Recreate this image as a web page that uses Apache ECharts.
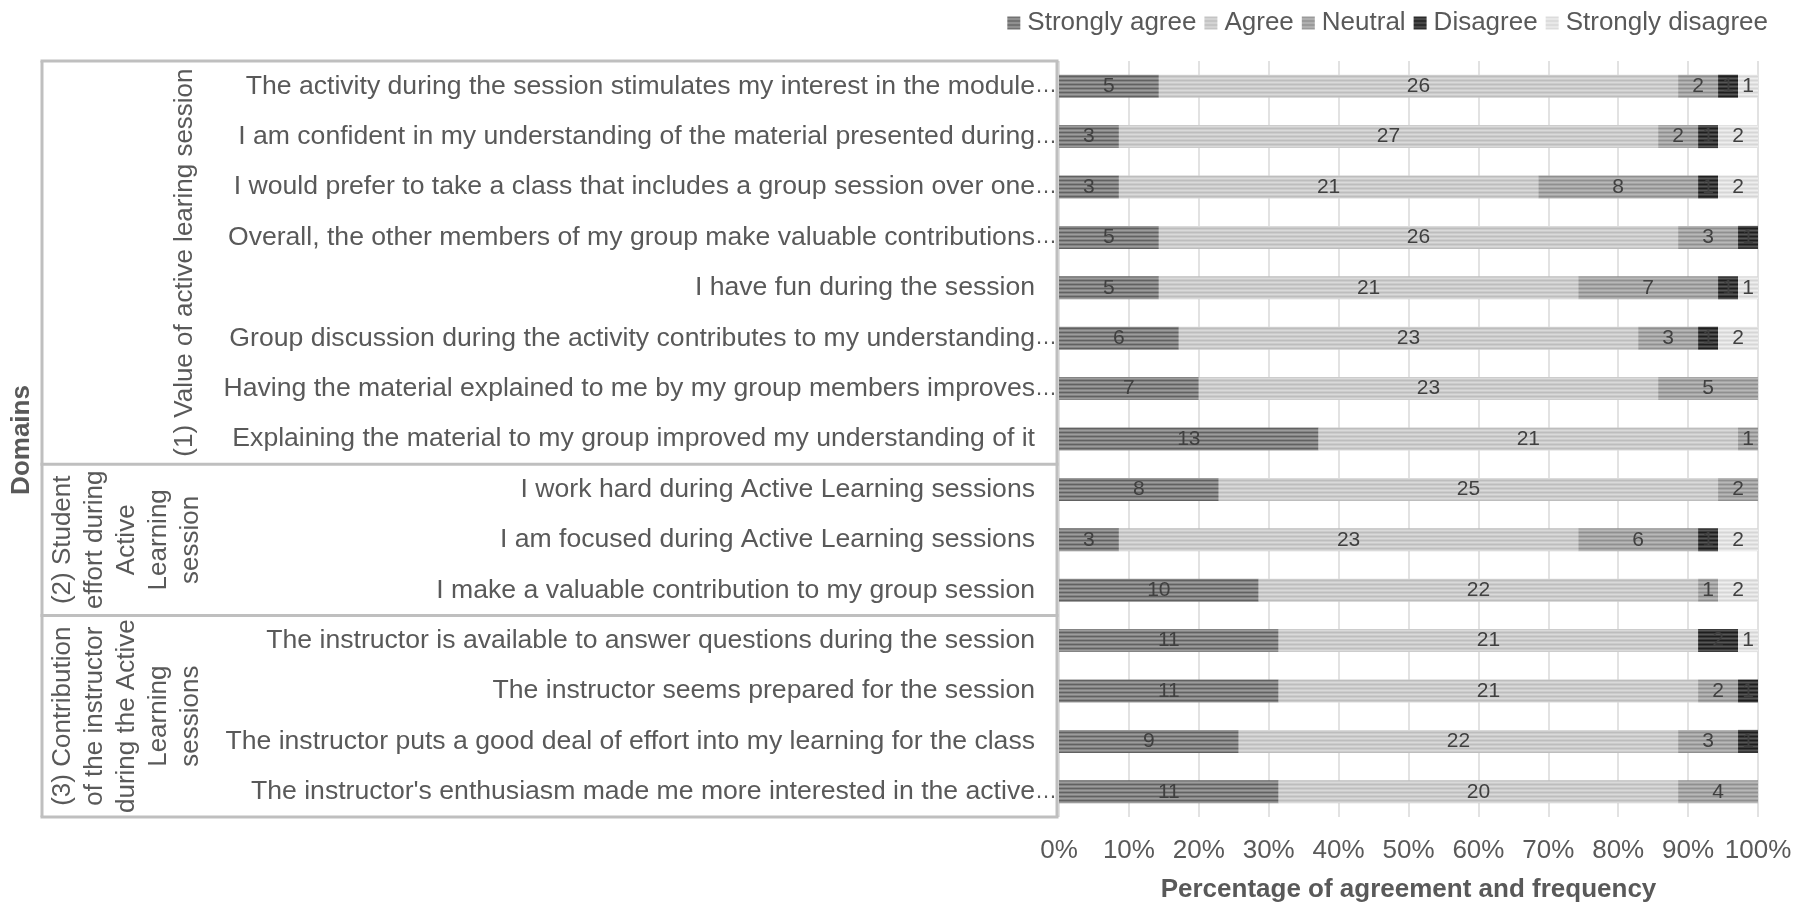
<!DOCTYPE html>
<html>
<head>
<meta charset="utf-8">
<script src="https://cdn.jsdelivr.net/npm/echarts@6/dist/echarts.min.js"></script>
<style>
  html, body { margin: 0; padding: 0; background: #fff; }
  #chart { width: 1809px; height: 904px; }
</style>
</head>
<body>
<div id="chart"></div>
<script>
// questions, top to bottom (excel cut the long ones with an ellipsis)
var questions = [
  "The activity during the session stimulates my interest in the module…",
  "I am confident in my understanding of the material presented during…",
  "I would prefer to take a class that includes a group session over one…",
  "Overall, the other members of my group make valuable contributions…",
  "I have fun during the session",
  "Group discussion during the activity contributes to my understanding…",
  "Having the material explained to me by my group members improves…",
  "Explaining the material to my group improved my understanding of it",
  "I work hard during Active Learning sessions",
  "I am focused during Active Learning sessions",
  "I make a valuable contribution to my group session",
  "The instructor is available to answer questions during the session",
  "The instructor seems prepared for the session",
  "The instructor puts a good deal of effort into my learning for the class",
  "The instructor's enthusiasm made me more interested in the active…"
];

// domain groups (rows per group)
var domains = [
  "(1) Value of active learing session",
  "(2) Student\neffort during\nActive\nLearning\nsession",
  "(3) Contribution\nof the instructor\nduring the Active\nLearning\nsessions"
];
var domainSizes = [8, 3, 4];

var levels = ["Strongly agree", "Agree", "Neutral", "Disagree", "Strongly disagree"];

// frequencies (respondents)
var stronglyAgree    = [5, 3, 3, 5, 5, 6, 7, 13, 8, 3, 10, 11, 11, 9, 11];
var agree            = [26, 27, 21, 26, 21, 23, 23, 21, 25, 23, 22, 21, 21, 22, 20];
var neutral          = [2, 2, 8, 3, 7, 3, 5, 1, 2, 6, 1, 0, 2, 3, 4];
var disagree         = [1, 1, 1, 1, 1, 1, 0, 0, 0, 1, 0, 2, 1, 1, 0];
var stronglyDisagree = [1, 2, 2, 0, 1, 2, 0, 0, 0, 2, 2, 1, 0, 0, 0];

var xTicks = [0, 10, 20, 30, 40, 50, 60, 70, 80, 90, 100];

var FONT = "'Liberation Sans', Arial, sans-serif";

// striped fills like the excel pattern
function stripes(dark, base, light) {
  var c = document.createElement("canvas");
  c.width = 4;
  c.height = 4;
  var ctx = c.getContext("2d");
  var rows = [dark, base, light, base];
  for (var i = 0; i < 4; i++) {
    ctx.fillStyle = rows[i];
    ctx.fillRect(0, i, 4, 1);
  }
  return { image: c, repeat: "repeat" };
}

var fills = [
  stripes("#616161", "#848484", "#9c9c9c"),
  stripes("#bdbdbd", "#cccccc", "#dadada"),
  stripes("#8f8f8f", "#a6a6a6", "#b8b8b8"),
  stripes("#1e1e1e", "#3a3a3a", "#555555"),
  stripes("#d6d6d6", "#e2e2e2", "#eeeeee")
];

var counts = [stronglyAgree, agree, neutral, disagree, stronglyDisagree];
var totals = questions.map(function (q, i) {
  return counts.reduce(function (s, arr) { return s + arr[i]; }, 0);
});

var myChart = echarts.init(document.getElementById("chart"));

var series = levels.map(function (name, k) {
  return {
    name: name,
    type: "bar",
    stack: "all",
    barWidth: 23,
    itemStyle: { color: fills[k] },
    label: {
      show: true,
      position: "inside",
      color: "#404040",
      fontSize: 21,
      fontFamily: FONT,
      formatter: function (p) { return p.data.n ? String(p.data.n) : ""; }
    },
    data: counts[k].map(function (n, i) {
      return { value: n / totals[i] * 100, n: n };
    })
  };
});

var option = {
  animation: false,
  textStyle: { fontFamily: FONT },
  legend: {
    data: levels,
    right: 36,
    top: 5,
    itemWidth: 13,
    itemHeight: 13,
    itemGap: 8,
    icon: "rect",
    textStyle: { fontSize: 26, color: "#595959", fontFamily: FONT, padding: [0, 0, 0, 2] }
  },
  grid: { left: 1059, right: 51, top: 61, bottom: 87, outerBoundsMode: "none" },
  xAxis: {
    type: "value",
    min: xTicks[0],
    max: xTicks[xTicks.length - 1],
    interval: 10,
    axisLine: { show: false },
    axisTick: { show: false },
    splitLine: { lineStyle: { color: "#d9d9d9", width: 1.5 } },
    axisLabel: { formatter: "{value}%", fontSize: 26, color: "#595959", margin: 21 },
    name: "Percentage of agreement and frequency",
    nameLocation: "middle",
    nameGap: 60,
    nameTextStyle: { fontSize: 26, fontWeight: "bold", color: "#595959" }
  },
  yAxis: {
    type: "category",
    inverse: true,
    data: questions,
    axisLine: { show: false },
    axisTick: { show: false },
    axisLabel: {
      fontSize: 26.6,
      color: "#595959",
      margin: 2,
      // the ellipsis hangs past the normal label edge, as in excel
      formatter: function (v) {
        if (v.charAt(v.length - 1) === "…") {
          return "{t|" + v.slice(0, -1) + "}{e|…}";
        }
        return "{t|" + v + "}{s| }";
      },
      rich: {
        t: { fontSize: 26.6, color: "#595959", fontFamily: FONT },
        e: { fontSize: 22, color: "#595959", fontFamily: FONT },
        s: { fontSize: 22, width: 22 }
      }
    }
  },
  series: series
};

myChart.setOption(option);

// frame of the domain table, built from the category layout
var top0 = myChart.convertToPixel({ yAxisIndex: 0 }, 0);
var top1 = myChart.convertToPixel({ yAxisIndex: 0 }, 1);
var band = top1 - top0;
var yStart = top0 - band / 2;
var xLeft = 42, xRight = 1057;
var lineStyle = { stroke: "#bfbfbf", lineWidth: 3 };
var graphics = [];
var yEnd = yStart + band * questions.length;

graphics.push({ type: "line", shape: { x1: xLeft - 1.5, y1: yStart, x2: xRight + 1.5, y2: yStart }, style: lineStyle });
graphics.push({ type: "line", shape: { x1: xLeft, y1: yStart, x2: xLeft, y2: yEnd }, style: lineStyle });
graphics.push({ type: "line", shape: { x1: xRight, y1: yStart, x2: xRight, y2: yEnd }, style: lineStyle });

var row = 0;
domains.forEach(function (d, g) {
  var y0 = yStart + row * band;
  row += domainSizes[g];
  var y1 = yStart + row * band;
  graphics.push({ type: "line", shape: { x1: xLeft - 1.5, y1: y1, x2: xRight + 1.5, y2: y1 }, style: lineStyle });
  graphics.push({
    type: "text",
    x: g === 0 ? 185 : 127,
    y: (y0 + y1) / 2,
    rotation: Math.PI / 2,
    style: {
      text: d,
      fontSize: 26,
      fontFamily: FONT,
      fill: "#595959",
      align: "center",
      verticalAlign: "middle",
      lineHeight: 32
    }
  });
});

graphics.push({
  type: "text",
  x: 22,
  y: 440,
  rotation: Math.PI / 2,
  style: {
    text: "Domains",
    fontSize: 26,
    fontWeight: "bold",
    fontFamily: FONT,
    fill: "#595959",
    align: "center",
    verticalAlign: "middle"
  }
});

myChart.setOption({ graphic: graphics });
</script>
</body>
</html>
